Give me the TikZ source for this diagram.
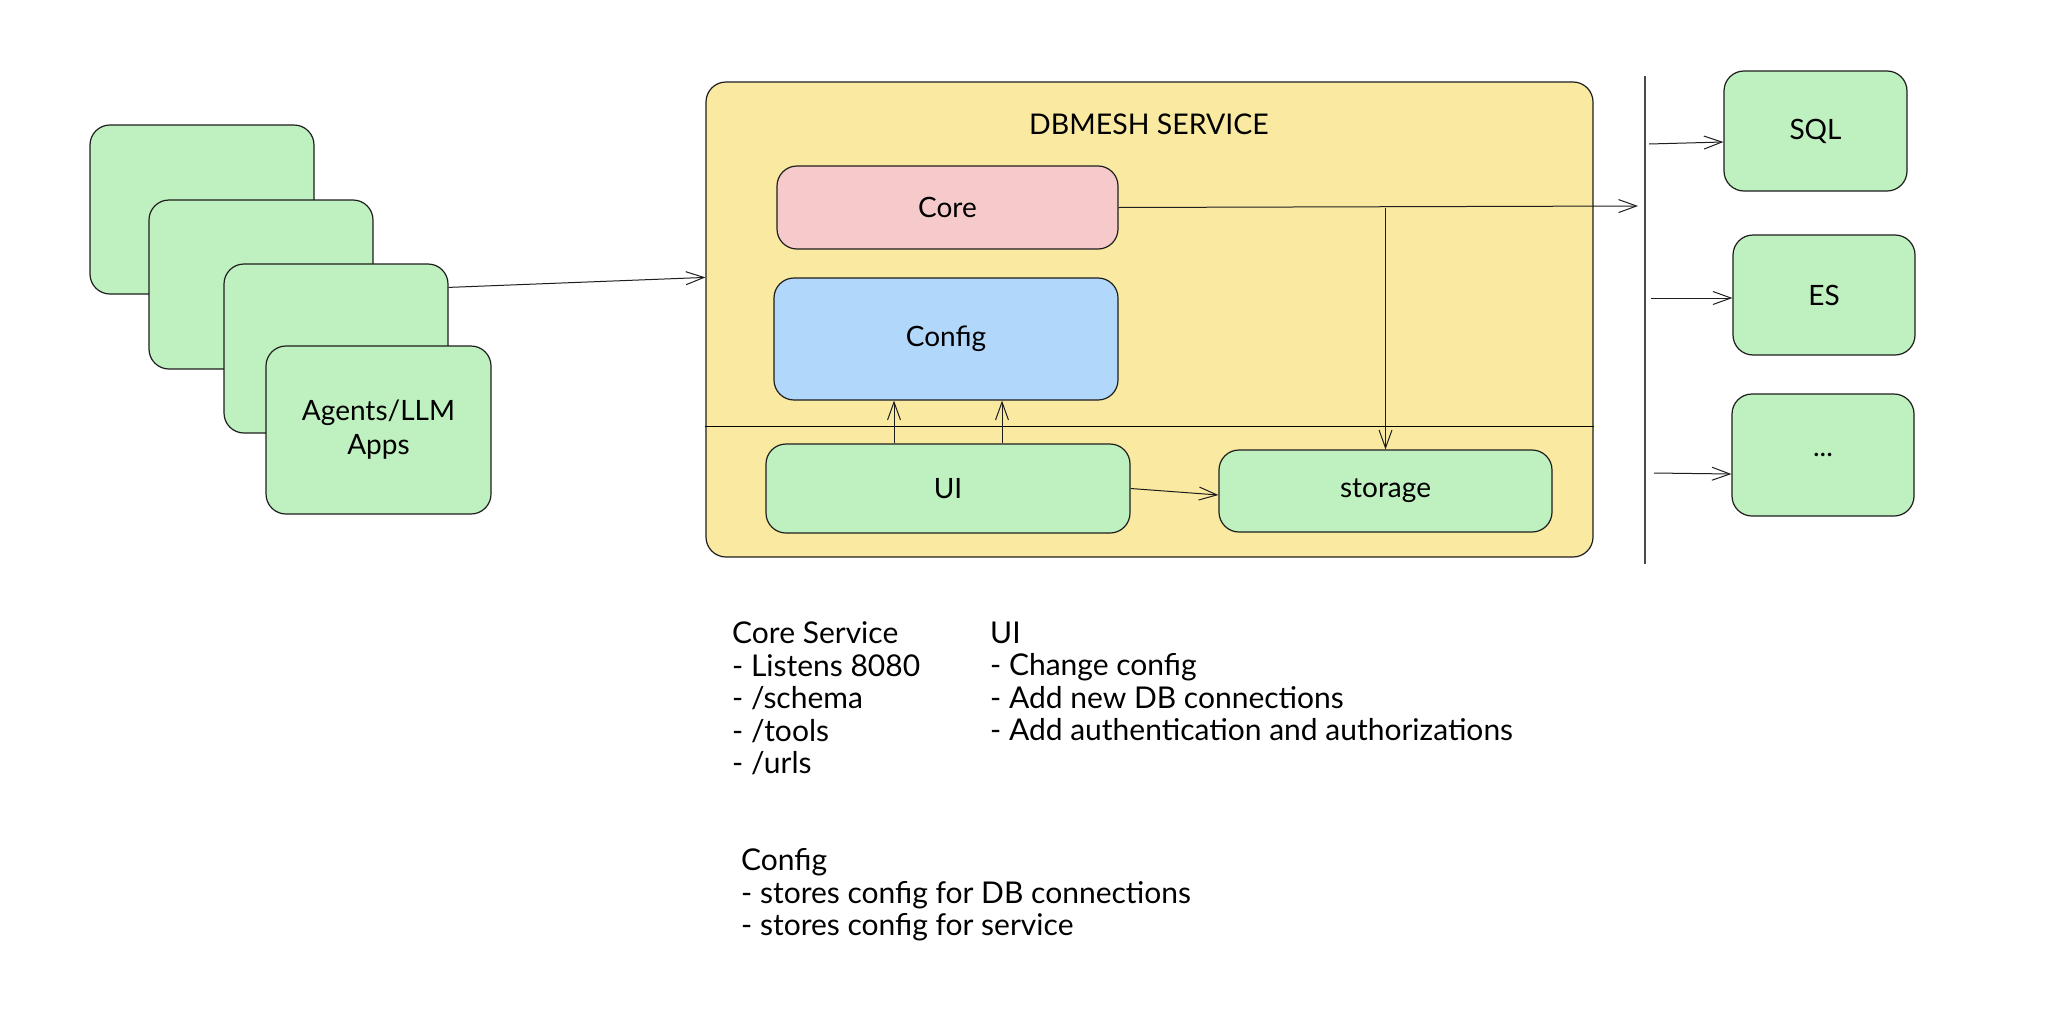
\documentclass[tikz,border=0pt]{standalone}
\usepackage{fontspec}
\setmainfont{Lato}
\usetikzlibrary{arrows.meta,calc}
\definecolor{cyellow}{HTML}{FAE9A0}
\definecolor{cgreen}{HTML}{BFF0BF}
\definecolor{cpink}{HTML}{F6CACA}
\definecolor{cblue}{HTML}{B1D7FA}
\definecolor{stroke}{HTML}{1E1E1E}
\definecolor{busgray}{HTML}{4A4A4A}
\begin{document}
\begin{tikzpicture}[x=1pt,y=-1pt,
  box/.style={draw=stroke, line width=1.2pt, rounded corners=20pt, inner sep=0pt,
    font=\fontsize{28}{34}\selectfont, align=center},
  gbox/.style={box, fill=cgreen},
  arr/.style={draw=stroke, line width=1pt, -{Straight Barb[length=18pt,width=13pt,line width=1pt]}},
  note/.style={anchor=north west, inner sep=0pt, align=left, font=\fontsize{30}{32.5}\selectfont}]
\useasboundingbox (0,0) rectangle (2068,1012);
\fill[white] (0,0) rectangle (2068,1012);

% client stack
\node[gbox, minimum width=224pt, minimum height=169pt] (b1) at (202,209.5) {};
\node[gbox, minimum width=224pt, minimum height=169pt] (b2) at (261,284.5) {};
\node[gbox, minimum width=224pt, minimum height=169pt] (b3) at (336,348.5) {};
\node[gbox, minimum width=225pt, minimum height=168pt] (b4) at (378.5,430) {Agents/LLM\\Apps};

% service
\node[box, fill=cyellow, minimum width=887pt, minimum height=475pt] (svc) at (1149.5,319.5) {};
\node[font=\fontsize{28.5}{32}\selectfont, inner sep=0pt] (title) at (1149,124) {DBMESH SERVICE};
\node[box, fill=cpink, minimum width=341pt, minimum height=83pt] (core) at (947.5,207.5) {Core};
\node[box, fill=cblue, minimum width=344pt, minimum height=122pt] (config) at (946,339) {Config};
\draw[stroke, line width=1.3pt] ($(svc.north west)+(0,345)$) -- ($(svc.north east)+(0,345)$);
\node[gbox, minimum width=364pt, minimum height=89pt] (ui) at (948,488.5) {UI};
\node[gbox, minimum width=333pt, minimum height=82pt] (storage) at (1385.5,491) {storage};

% bus
\coordinate (vtop) at (1645,76);
\coordinate (vbot) at (1645,564);
\draw[busgray, line width=1.5pt] (vtop) -- (vbot);

% databases
\node[gbox, minimum width=183pt, minimum height=120pt] (sql) at (1815.5,131) {SQL};
\node[gbox, minimum width=182pt, minimum height=120pt] (es) at (1824,295) {ES};
\node[gbox, minimum width=182pt, minimum height=122pt] (more) at (1823,455) {...};

% connectors
\draw[arr] ([yshift=-24pt]b3.north east) -- ([yshift=-196pt]svc.north west);
\coordinate (busin) at (1638,206);
\draw[arr] (core.east) -- (busin);
\draw[arr] (core.east -| storage.north) -- (storage.north);
\draw[arr] ([xshift=-54pt]ui.north) -- ([xshift=-54pt]ui.north |- config.south);
\draw[arr] ([xshift=54pt]ui.north) -- ([xshift=54pt]ui.north |- config.south);
\draw[arr] (ui.east) -- ([yshift=-4pt]storage.west);
\coordinate (s1) at (1649,144);
\coordinate (s2) at (1651,298);
\coordinate (s3) at (1654,473);
\draw[arr] (s1) -- ([yshift=-11pt]sql.west);
\draw[arr] (s2) -- ([yshift=-3pt]es.west);
\draw[arr] (s3) -- ([yshift=-19pt]more.west);

% notes
\node[note] (ncore) at (732,621.5) {Core Service\\- Listens 8080\\- /schema\\- /tools\\- /urls};
\node[note] (nui) at (990,621.5) {UI\\- Change config\\- Add new DB connections\\- Add authentication and authorizations};
\node[note] (nconfig) at (741,848.5) {Config\\- stores config for DB connections\\- stores config for service};
\end{tikzpicture}
\end{document}
